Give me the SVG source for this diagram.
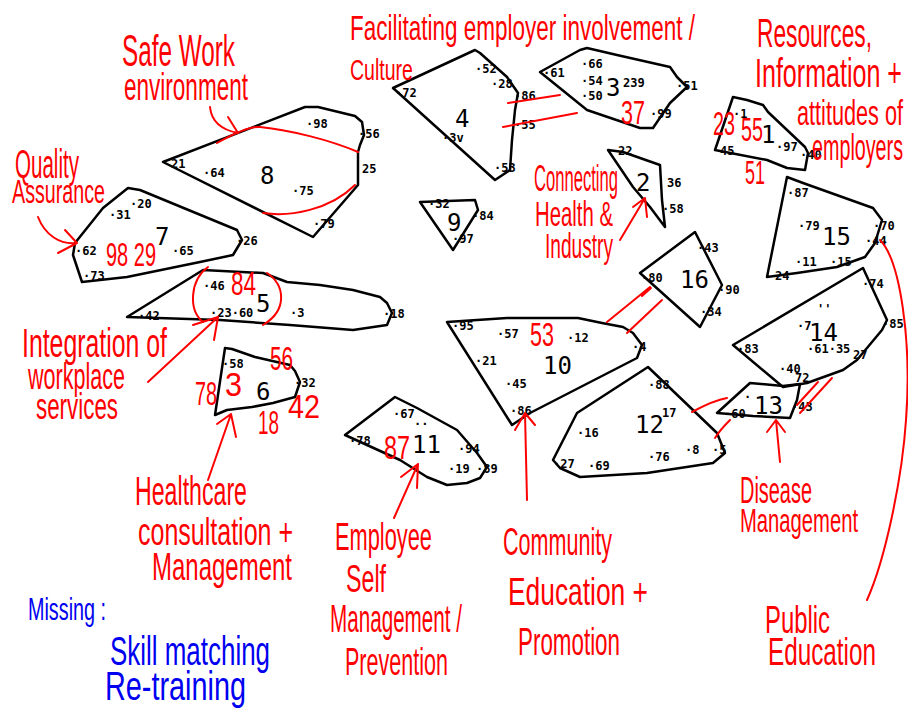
<svg xmlns="http://www.w3.org/2000/svg" width="908" height="712" viewBox="0 0 908 712">
<style>
.poly{fill:none;stroke:#000;stroke-width:2.5;stroke-linejoin:round}
.l{font-family:"DejaVu Sans Mono","Liberation Mono",monospace;font-size:12px;font-weight:bold;fill:#000}
.id{font-family:"DejaVu Sans Mono","Liberation Mono",monospace;font-size:24px;fill:#000}
.hw{font-family:"Liberation Sans",Arial,sans-serif;fill:#f00}
.hwb{font-family:"Liberation Sans",Arial,sans-serif;fill:#0000f0}
.red{fill:none;stroke:#f00;stroke-width:2;stroke-linecap:round;stroke-linejoin:round}
</style>
<rect width="908" height="712" fill="#fff"/>

<g id="cluster-8">
<polygon class="poly" points="163,162 305,107 318,107 355,116 362,122 364,135 360,145 358,152 358,185 313,237"/>
<text class="l" x="171" y="168">21</text>
<text class="l" x="203" y="177">·64</text>
<text class="id" x="260" y="184">8</text>
<text class="l" x="292" y="195">·75</text>
<text class="l" x="306" y="128">·98</text>
<text class="l" x="358" y="138">·56</text>
<text class="l" x="362" y="173">25</text>
<text class="l" x="313" y="228">·79</text>
</g>

<g id="cluster-7">
<polygon class="poly" points="128,188 140,190 237,230 242,240 233,255 200,262 127,277 82,282 73,255 75,243 103,208"/>
<text class="l" x="130" y="208">·20</text>
<text class="l" x="109" y="219">·31</text>
<text class="id" x="155" y="245">7</text>
<text class="l" x="75" y="255">·62</text>
<text class="l" x="172" y="255">·65</text>
<text class="l" x="236" y="245">·26</text>
<text class="l" x="83" y="280">·73</text>
<text class="hw" font-size="20" transform="translate(106,266) scale(1,1.7)" textLength="50" lengthAdjust="spacingAndGlyphs">98 29</text>
</g>

<g id="cluster-5">
<polygon class="poly" points="127,317 203,270 263,273 287,282 320,285 353,290 380,297 387,303 392,313 387,325 353,330 290,325 220,320"/>
<text class="l" x="138" y="320">·42</text>
<text class="l" x="203" y="290">·46</text>
<text class="l" x="210" y="317">·23·60</text>
<text class="id" x="256" y="312">5</text>
<text class="l" x="290" y="317">·3</text>
<text class="l" x="383" y="318">·18</text>
<text class="hw" font-size="22.5" transform="translate(231,295) scale(1,1.51)" textLength="25" lengthAdjust="spacingAndGlyphs">84</text>
</g>

<g id="cluster-6">
<polygon class="poly" points="225,348 232,349 255,357 290,365 295,371 300,382 295,397 273,403 252,407 227,410 215,415"/>
<text class="l" x="222" y="368">·58</text>
<text class="id" x="256" y="400">6</text>
<text class="l" x="294" y="387">·32</text>
<text class="hw" font-size="19.8" transform="translate(195,405) scale(1,1.72)" textLength="22" lengthAdjust="spacingAndGlyphs">78</text>
<text class="hw" font-size="30" transform="translate(225,396) scale(1,1.13)" textLength="17" lengthAdjust="spacingAndGlyphs">3</text>
<text class="hw" font-size="20.7" transform="translate(270,370) scale(1,1.64)" textLength="23" lengthAdjust="spacingAndGlyphs">56</text>
<text class="hw" font-size="18.9" transform="translate(258,434) scale(1,1.8)" textLength="21" lengthAdjust="spacingAndGlyphs">18</text>
<text class="hw" font-size="28.8" transform="translate(288,418) scale(1,1.18)" textLength="32" lengthAdjust="spacingAndGlyphs">42</text>
</g>

<g id="cluster-11">
<polygon class="poly" points="345,435 395,397 417,408 457,430 477,453 487,467 480,478 467,483 447,485 427,477 400,460"/>
<text class="l" x="393" y="418">·67</text>
<text class="l" x="414" y="428">··</text>
<text class="id" x="412" y="453">11</text>
<text class="l" x="349" y="445">·78</text>
<text class="l" x="458" y="453">·94</text>
<text class="l" x="448" y="473">·19</text>
<text class="l" x="476" y="473">·89</text>
<text class="hw" font-size="23.4" transform="translate(384,459) scale(1,1.45)" textLength="26" lengthAdjust="spacingAndGlyphs">87</text>
</g>

<g id="cluster-4">
<polygon class="poly" points="393,88 475,50 480,53 507,77 518,93 515,110 512,140 510,170 495,180"/>
<text class="l" x="395" y="97">·72</text>
<text class="l" x="475" y="73">·52</text>
<text class="l" x="491" y="88">·28</text>
<text class="l" x="514" y="100">·86</text>
<text class="id" x="455" y="127">4</text>
<text class="l" x="514" y="129">·55</text>
<text class="l" x="442" y="142">·3v</text>
<text class="l" x="494" y="172">·53</text>
</g>

<g id="cluster-3">
<polygon class="poly" points="540,72 580,50 587,48 617,55 670,67 677,77 687,87 670,103 653,128 640,128 587,110"/>
<text class="l" x="543" y="77">·61</text>
<text class="l" x="581" y="68">·66</text>
<text class="l" x="581" y="85">·54</text>
<text class="l" x="581" y="100">·50</text>
<text class="id" x="606" y="96">3</text>
<text class="l" x="623" y="87">239</text>
<text class="l" x="676" y="90">·51</text>
<text class="l" x="650" y="118">·99</text>
<text class="hw" font-size="21.6" transform="translate(621,124) scale(1,1.57)" textLength="24" lengthAdjust="spacingAndGlyphs">37</text>
</g>

<g id="cluster-9">
<polygon class="poly" points="420,202 475,200 478,210 453,250"/>
<text class="l" x="428" y="208">·32</text>
<text class="l" x="472" y="220">·84</text>
<text class="id" x="447" y="231">9</text>
<text class="l" x="452" y="243">·97</text>
</g>

<g id="cluster-2">
<polygon class="poly" points="608,150 623,152 660,165 662,200 665,227 650,207 633,187"/>
<text class="l" x="618" y="155">22</text>
<text class="id" x="636" y="191">2</text>
<text class="l" x="667" y="187">36</text>
<text class="l" x="662" y="213">·58</text>
</g>

<g id="cluster-1">
<polygon class="poly" points="733,97 747,100 763,105 768,112 805,147 808,153 805,170 787,168 767,160 715,150"/>
<text class="l" x="733" y="118">·1</text>
<text class="l" x="720" y="155">45</text>
<text class="id" x="761" y="143">1</text>
<text class="l" x="776" y="151">·97</text>
<text class="l" x="800" y="159">·40</text>
<text class="hw" font-size="19.8" transform="translate(713,135) scale(1,1.72)" textLength="22" lengthAdjust="spacingAndGlyphs">23</text>
<text class="hw" font-size="19.8" transform="translate(741,141) scale(1,1.72)" textLength="22" lengthAdjust="spacingAndGlyphs">55</text>
<text class="hw" font-size="18" transform="translate(745,184) scale(1,1.89)" textLength="20" lengthAdjust="spacingAndGlyphs">51</text>
</g>

<g id="cluster-15">
<polygon class="poly" points="787,177 803,183 873,208 882,220 875,243 865,257 837,267 797,273 767,277"/>
<text class="l" x="787" y="197">·87</text>
<text class="l" x="798" y="230">·79</text>
<text class="id" x="822" y="245">15</text>
<text class="l" x="873" y="230">·70</text>
<text class="l" x="865" y="245">·44</text>
<text class="l" x="795" y="266">·11</text>
<text class="l" x="830" y="266">·15</text>
<text class="l" x="775" y="280">24</text>
</g>

<g id="cluster-16">
<polygon class="poly" points="640,273 695,232 722,285 700,327"/>
<text class="l" x="641" y="282">·80</text>
<text class="l" x="697" y="252">·43</text>
<text class="id" x="680" y="288">16</text>
<text class="l" x="718" y="294">·90</text>
<text class="l" x="700" y="316">·34</text>
</g>

<g id="cluster-10">
<polygon class="poly" points="447,322 507,318 578,318 602,323 623,327 633,333 642,345 637,358 530,413 512,425"/>
<text class="l" x="452" y="330">·95</text>
<text class="l" x="497" y="338">·57</text>
<text class="l" x="567" y="342">·12</text>
<text class="l" x="632" y="351">·4</text>
<text class="l" x="475" y="365">·21</text>
<text class="id" x="543" y="374">10</text>
<text class="l" x="505" y="388">·45</text>
<text class="l" x="510" y="415">·86</text>
<text class="hw" font-size="21.6" transform="translate(530,346) scale(1,1.57)" textLength="24" lengthAdjust="spacingAndGlyphs">53</text>
</g>

<g id="cluster-12">
<polygon class="poly" points="553,460 577,413 648,367 717,433 725,453 713,463 680,468 647,473 580,477 560,468"/>
<text class="l" x="648" y="389">·88</text>
<text class="id" x="635" y="433">12</text>
<text class="l" x="662" y="417">17</text>
<text class="l" x="577" y="437">·16</text>
<text class="l" x="553" y="468">·27</text>
<text class="l" x="588" y="470">·69</text>
<text class="l" x="648" y="461">·76</text>
<text class="l" x="685" y="454">·8</text>
<text class="l" x="712" y="454">·5</text>
</g>

<g id="cluster-13">
<polygon class="poly" points="717,413 750,383 783,386 800,384 797,400 790,418 753,416"/>
<text class="l" x="724" y="418">·60</text>
<text class="l" x="744" y="401">·</text>
<text class="id" x="754" y="414">13</text>
<text class="l" x="791" y="411">·43</text>
</g>

<g id="cluster-14">
<polygon class="poly" points="733,345 863,268 887,320 882,330 857,360 843,370 807,383 783,387"/>
<text class="l" x="737" y="353">·83</text>
<text class="l" x="797" y="330">·7</text>
<text class="id" x="809" y="341">14</text>
<text class="l" x="817" y="313">''</text>
<text class="l" x="807" y="353">·61·35</text>
<text class="l" x="853" y="359">27</text>
<text class="l" x="862" y="288">·74</text>
<text class="l" x="882" y="328">·85</text>
<text class="l" x="779" y="373">·40</text>
<text class="l" x="795" y="382">72</text>
</g>

<g id="labels">
<g id="label-safe-work">
<text class="hw" font-size="24.2" transform="translate(122,66) scale(1,1.82)" textLength="113" lengthAdjust="spacingAndGlyphs">Safe Work</text>
<text class="hw" font-size="22.5" transform="translate(124,100) scale(1,1.69)" textLength="124" lengthAdjust="spacingAndGlyphs">environment</text>
</g>
<g id="label-quality">
<text class="hw" font-size="20.6" transform="translate(15,178) scale(1,1.94)" textLength="64" lengthAdjust="spacingAndGlyphs">Quality</text>
<text class="hw" font-size="19.7" transform="translate(12,203) scale(1,1.73)" textLength="93" lengthAdjust="spacingAndGlyphs">Assurance</text>
</g>
<g id="label-facilitating">
<text class="hw" font-size="22.5" transform="translate(350,40) scale(1,1.6)" textLength="345" lengthAdjust="spacingAndGlyphs">Facilitating employer involvement /</text>
<text class="hw" font-size="19.5" transform="translate(350,80) scale(1,1.54)" textLength="63" lengthAdjust="spacingAndGlyphs">Culture</text>
</g>
<g id="label-resources">
<text class="hw" font-size="22.7" transform="translate(757,47) scale(1,1.76)" textLength="115" lengthAdjust="spacingAndGlyphs">Resources,</text>
<text class="hw" font-size="25" transform="translate(755,87) scale(1,1.6)" textLength="147" lengthAdjust="spacingAndGlyphs">Information +</text>
<text class="hw" font-size="21.8" transform="translate(797,125) scale(1,1.65)" textLength="106" lengthAdjust="spacingAndGlyphs">attitudes of</text>
<text class="hw" font-size="19.8" transform="translate(812,160) scale(1,1.82)" textLength="91" lengthAdjust="spacingAndGlyphs">employers</text>
</g>
<g id="label-connecting">
<text class="hw" font-size="16.6" transform="translate(534,191) scale(1,2.17)" textLength="84" lengthAdjust="spacingAndGlyphs">Connecting</text>
<text class="hw" font-size="20.3" transform="translate(535,226) scale(1,1.77)" textLength="78" lengthAdjust="spacingAndGlyphs">Health &amp;</text>
<text class="hw" font-size="19.1" transform="translate(545,258) scale(1,1.88)" textLength="68" lengthAdjust="spacingAndGlyphs">Industry</text>
</g>
<g id="label-integration">
<text class="hw" font-size="24.8" transform="translate(22,357) scale(1,1.61)" textLength="145" lengthAdjust="spacingAndGlyphs">Integration of</text>
<text class="hw" font-size="21.6" transform="translate(28,389) scale(1,1.67)" textLength="97" lengthAdjust="spacingAndGlyphs">workplace</text>
<text class="hw" font-size="22.4" transform="translate(36,419) scale(1,1.61)" textLength="82" lengthAdjust="spacingAndGlyphs">services</text>
</g>
<g id="label-healthcare">
<text class="hw" font-size="23.2" transform="translate(135,505) scale(1,1.72)" textLength="112" lengthAdjust="spacingAndGlyphs">Healthcare</text>
<text class="hw" font-size="25" transform="translate(138,545) scale(1,1.52)" textLength="155" lengthAdjust="spacingAndGlyphs">consultation +</text>
<text class="hw" font-size="24" transform="translate(152,580) scale(1,1.58)" textLength="140" lengthAdjust="spacingAndGlyphs">Management</text>
</g>
<g id="label-employee">
<text class="hw" font-size="21.8" transform="translate(335,550) scale(1,1.74)" textLength="97" lengthAdjust="spacingAndGlyphs">Employee</text>
<text class="hw" font-size="23.2" transform="translate(346,592) scale(1,1.64)" textLength="40" lengthAdjust="spacingAndGlyphs">Self</text>
<text class="hw" font-size="20.7" transform="translate(330,632) scale(1,1.84)" textLength="132" lengthAdjust="spacingAndGlyphs">Management /</text>
<text class="hw" font-size="21.5" transform="translate(345,675) scale(1,1.77)" textLength="103" lengthAdjust="spacingAndGlyphs">Prevention</text>
</g>
<g id="label-community">
<text class="hw" font-size="21.6" transform="translate(503,555) scale(1,1.76)" textLength="109" lengthAdjust="spacingAndGlyphs">Community</text>
<text class="hw" font-size="26.4" transform="translate(508,605) scale(1,1.44)" textLength="140" lengthAdjust="spacingAndGlyphs">Education +</text>
<text class="hw" font-size="22.4" transform="translate(518,655) scale(1,1.7)" textLength="102" lengthAdjust="spacingAndGlyphs">Promotion</text>
</g>
<g id="label-disease">
<text class="hw" font-size="19.9" transform="translate(740,503) scale(1,1.81)" textLength="72" lengthAdjust="spacingAndGlyphs">Disease</text>
<text class="hw" font-size="20.2" transform="translate(740,532) scale(1,1.68)" textLength="118" lengthAdjust="spacingAndGlyphs">Management</text>
</g>
<g id="label-public">
<text class="hw" font-size="23.9" transform="translate(765,633) scale(1,1.59)" textLength="65" lengthAdjust="spacingAndGlyphs">Public</text>
<text class="hw" font-size="24.3" transform="translate(768,665) scale(1,1.56)" textLength="108" lengthAdjust="spacingAndGlyphs">Education</text>
</g>
<g id="label-missing">
<text class="hwb" font-size="19.8" transform="translate(28,620) scale(1,1.62)" textLength="78" lengthAdjust="spacingAndGlyphs">Missing :</text>
<text class="hwb" font-size="25.9" transform="translate(110,665) scale(1,1.54)" textLength="160" lengthAdjust="spacingAndGlyphs">Skill matching</text>
<text class="hwb" font-size="28.8" transform="translate(105,700) scale(1,1.39)" textLength="141" lengthAdjust="spacingAndGlyphs">Re-training</text>
</g>
</g>

<g id="connectors">
<path class="red" d="M217,143 C235,133 250,126 260,127 C290,130 330,140 358,152"/>
<path class="red" d="M263,213 C290,217 330,210 355,185"/>
<path class="red" d="M210,107 Q212,128 238,133 M228,117 L238,133"/>
<path class="red" d="M38,217 C45,235 60,245 77,243 M65,230 L77,243 L58,253"/>
<path class="red" d="M208,267 C190,280 188,310 203,322"/>
<path class="red" d="M267,273 C285,285 288,310 263,325"/>
<path class="red" d="M148,382 L218,317 M193,325 L218,317 L214,340"/>
<path class="red" d="M208,480 L231,414 M217,424 L231,414 L236,437"/>
<path class="red" d="M394,518 L418,464 M401,477 L418,464 L417,488"/>
<path class="red" d="M527,500 L525,413 M515,430 L525,413 L535,425"/>
<path class="red" d="M620,240 L645,198 M633,207 L645,198 L647,217"/>
<path class="red" d="M780,462 L776,420 M767,432 L776,420 L785,432"/>
<path class="red" d="M880,240 C900,260 912,340 906,420 C902,480 885,560 867,600"/>
<path class="red" d="M508,103 L560,95 M503,127 L577,113"/>
<path class="red" d="M607,322 L650,287 M642,296 L651,288 M627,333 L662,300"/>
<path class="red" d="M692,412 C705,405 715,400 727,398 M715,438 C720,430 725,425 730,420"/>
<path class="red" d="M797,405 L818,382 M800,413 L832,378"/>
</g>
</svg>
